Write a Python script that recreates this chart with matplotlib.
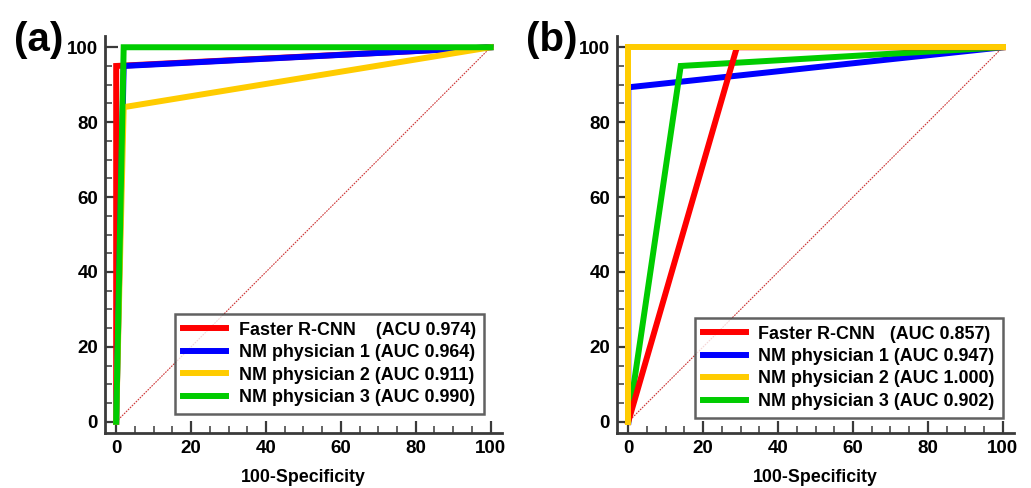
import matplotlib.pyplot as plt
from matplotlib.ticker import MultipleLocator

plt.rcParams['font.family'] = ['Liberation Sans', 'DejaVu Sans']
plt.rcParams['font.weight'] = 'bold'

labels_a = ["Faster R-CNN    (ACU 0.974)", "NM physician 1 (AUC 0.964)",
            "NM physician 2 (AUC 0.911)", "NM physician 3 (AUC 0.990)"]
labels_b = ["Faster R-CNN   (AUC 0.857)", "NM physician 1 (AUC 0.947)",
            "NM physician 2 (AUC 1.000)", "NM physician 3 (AUC 0.902)"]
colors = ["#ff0000", "#0000ff", "#ffcc00", "#00cc00"]

# ROC points (100-specificity, sensitivity)
fpr_a = [[0, 0, 100], [0, 2, 100], [0, 2, 100], [0, 2, 100]]
tpr_a = [[0, 95, 100], [0, 95, 100], [0, 84, 100], [0, 100, 100]]
fpr_b = [[0, 29, 100], [0, 0, 100], [0, 0, 100], [0, 14, 100]]
tpr_b = [[0, 100, 100], [0, 89.3, 100], [0, 100, 100], [0, 95, 100]]

order_a = [0, 1, 2, 3]
order_b = [1, 3, 0, 2]

fig = plt.figure(figsize=(10.31, 4.88), dpi=100)
ax_a = fig.add_axes([0.1018, 0.1127, 0.385, 0.8135])
ax_b = fig.add_axes([0.5985, 0.1127, 0.385, 0.8135])


def draw(ax, fpr, tpr, labels, order, anchor, tag):
    ax.plot([0, 100], [0, 100], color="#cc3333", lw=0.8, ls=(0, (1.5, 1)), zorder=1)
    handles = [None] * 4
    for z, i in enumerate(order):
        handles[i], = ax.plot(fpr[i], tpr[i], color=colors[i], lw=4.3,
                              solid_joinstyle='miter', zorder=2 + z, label=labels[i])
    ax.set_xlim(-3, 103)
    ax.set_ylim(-3, 103)
    for s in ["top", "right"]:
        ax.spines[s].set_visible(False)
    for s in ["left", "bottom"]:
        ax.spines[s].set_linewidth(2.0)
        ax.spines[s].set_color("#3a3a3a")
    ax.xaxis.set_major_locator(MultipleLocator(20))
    ax.yaxis.set_major_locator(MultipleLocator(20))
    ax.xaxis.set_minor_locator(MultipleLocator(5))
    ax.yaxis.set_minor_locator(MultipleLocator(5))
    ax.tick_params(which='major', direction='in', length=9, width=1.6, color="#3a3a3a",
                   labelsize=13.5, pad=5)
    ax.tick_params(which='minor', direction='in', length=5, width=1.1, color="#3a3a3a")
    for t in ax.get_xticklabels() + ax.get_yticklabels():
        t.set_fontweight('bold')
    ax.set_xlabel("100-Specificity", fontsize=12.8, fontweight='bold', labelpad=9)
    leg = ax.legend(handles=handles, loc='lower right', bbox_to_anchor=anchor,
                    fontsize=12.9, frameon=True, fancybox=False, handlelength=2.4,
                    borderpad=0.45, labelspacing=0.3, handletextpad=0.7,
                    borderaxespad=0.0)
    leg.get_frame().set_edgecolor("#3a3a3a")
    leg.get_frame().set_linewidth(1.8)
    for t in leg.get_texts():
        t.set_fontweight('bold')
    ax.text(-0.23, 0.99, tag, transform=ax.transAxes, fontsize=29, fontweight='bold',
            va='center', ha='left')


draw(ax_a, fpr_a, tpr_a, labels_a, order_a, (0.955, 0.048), "(a)")
draw(ax_b, fpr_b, tpr_b, labels_b, order_b, (0.972, 0.038), "(b)")

fig.savefig("out.png", dpi=100)
